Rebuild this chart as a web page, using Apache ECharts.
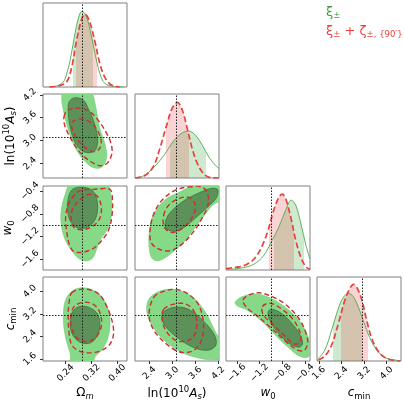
<!DOCTYPE html>
<html>
<head>
<meta charset="utf-8">
<script src="https://cdn.jsdelivr.net/npm/echarts@6/dist/echarts.min.js"></script>
<style>
  html, body { margin: 0; padding: 0; background: #fff; }
  #chart { width: 404px; height: 404px; }
</style>
</head>
<body>
<div id="chart"></div>
<script>
// parameters: Omega_m, ln(10^10 A_s), w0, c_min
const truths = [0.29, 3.1, -1.0, 3.15];
const ranges = [[0.17, 0.43], [2.02, 4.22], [-1.79, -0.31], [1.53, 4.51]];
const ticksOm = [0.24, 0.32, 0.40];
const ticksAs = [2.4, 3.0, 3.6, 4.2];
const ticksW0 = [-1.6, -1.2, -0.8, -0.4];
const ticksCmin = [1.6, 2.4, 3.2, 4.0];

// 1D marginals [x, density/peak]
const margOmXi = [[0.19,0],[0.212,0.013],[0.233,0.065],[0.243,0.17],[0.254,0.349],[0.269,0.698],[0.282,0.938],[0.291,0.991],[0.303,0.938],[0.316,0.742],[0.331,0.437],[0.346,0.175],[0.362,0.044],[0.388,0.009],[0.42,0]];
const margOmZeta = [[0.19,0],[0.217,0.013],[0.243,0.065],[0.259,0.262],[0.274,0.611],[0.290,0.895],[0.300,0.952],[0.313,0.873],[0.331,0.589],[0.346,0.306],[0.362,0.122],[0.383,0.022],[0.408,0]];
const margAsXi = [[2.02,0],[2.24,0.027],[2.51,0.137],[2.77,0.292],[3.04,0.490],[3.26,0.592],[3.43,0.614],[3.61,0.557],[3.79,0.424],[3.96,0.270],[4.14,0.159],[4.22,0.124]];
const margAsZeta = [[2.02,0],[2.29,0.035],[2.51,0.159],[2.68,0.402],[2.86,0.711],[2.99,0.910],[3.13,0.99],[3.26,0.888],[3.39,0.645],[3.52,0.380],[3.66,0.181],[3.83,0.049],[4.01,0.004],[4.22,0]];
const margW0Xi = [[-1.79,0.009],[-1.54,0.022],[-1.30,0.075],[-1.13,0.186],[-0.98,0.384],[-0.86,0.561],[-0.74,0.782],[-0.64,0.915],[-0.56,0.848],[-0.47,0.605],[-0.38,0.318],[-0.31,0.141]];
const margW0Zeta = [[-1.79,0.018],[-1.66,0.031],[-1.54,0.044],[-1.42,0.075],[-1.30,0.141],[-1.18,0.274],[-1.06,0.495],[-0.95,0.782],[-0.86,0.950],[-0.80,0.994],[-0.74,0.937],[-0.65,0.694],[-0.56,0.384],[-0.47,0.163],[-0.38,0.040],[-0.31,0.009]];
const margCminXi = [[1.55,0.02],[1.81,0.144],[2.05,0.406],[2.23,0.624],[2.41,0.799],[2.64,0.886],[2.82,0.842],[3.06,0.646],[3.29,0.406],[3.53,0.210],[3.77,0.092],[4.00,0.035],[4.36,0.009],[4.51,0]];
const margCminZeta = [[1.58,0.013],[1.81,0.065],[2.05,0.210],[2.29,0.493],[2.52,0.799],[2.70,0.952],[2.82,1.004],[2.96,0.952],[3.12,0.799],[3.29,0.537],[3.47,0.297],[3.71,0.122],[3.94,0.044],[4.18,0.013],[4.48,0]];

// 68% intervals shaded in the 1D panels
const bandOmXi = [0.262, 0.324], bandOmZeta = [0.272, 0.336];
const bandAsXi = [2.93, 3.88], bandAsZeta = [2.82, 3.43];
const bandW0Xi = [-0.95, -0.42], bandW0Zeta = [-1.035, -0.59];
const bandCminXi = [2.11, 3.12], bandCminZeta = [2.37, 3.35];

// 2D contours (68% and 95%), [x, y]
const ctrOmAsXi95 = [[0.233,4.28],[0.228,4.11],[0.233,3.80],[0.243,3.44],[0.256,3.09],[0.272,2.78],[0.295,2.50],[0.321,2.31],[0.346,2.28],[0.362,2.41],[0.367,2.65],[0.360,2.96],[0.346,3.31],[0.338,3.66],[0.331,3.97],[0.321,4.24],[0.285,4.41]];
const ctrOmAsXi68 = [[0.269,4.12],[0.251,4.02],[0.248,3.80],[0.251,3.49],[0.259,3.18],[0.272,2.91],[0.290,2.74],[0.310,2.68],[0.331,2.74],[0.339,2.96],[0.336,3.22],[0.326,3.53],[0.310,3.84],[0.295,4.06]];
const ctrOmAsZeta95 = [[0.235,3.62],[0.243,3.77],[0.264,3.84],[0.290,3.84],[0.316,3.75],[0.341,3.53],[0.365,3.22],[0.381,2.91],[0.383,2.65],[0.369,2.41],[0.349,2.34],[0.326,2.41],[0.295,2.60],[0.269,2.87],[0.248,3.18],[0.236,3.44]];
const ctrOmAsZeta68 = [[0.259,3.47],[0.274,3.55],[0.295,3.56],[0.318,3.47],[0.338,3.27],[0.350,3.00],[0.344,2.78],[0.326,2.71],[0.303,2.80],[0.279,3.00],[0.262,3.27]];

const ctrOmW0Xi95 = [[0.256,-0.27],[0.238,-0.47],[0.228,-0.68],[0.225,-0.89],[0.230,-1.10],[0.241,-1.29],[0.259,-1.45],[0.279,-1.58],[0.303,-1.63],[0.324,-1.58],[0.336,-1.42],[0.349,-1.24],[0.367,-1.10],[0.380,-0.89],[0.383,-0.62],[0.377,-0.38],[0.367,-0.27]];
const ctrOmW0Xi68 = [[0.285,-0.33],[0.259,-0.38],[0.247,-0.56],[0.246,-0.74],[0.254,-0.92],[0.274,-1.04],[0.300,-1.05],[0.326,-0.95],[0.338,-0.77],[0.336,-0.53],[0.321,-0.38]];
const ctrOmW0Zeta95 = [[0.259,-0.53],[0.285,-0.39],[0.326,-0.37],[0.377,-0.37],[0.385,-0.56],[0.383,-0.86],[0.372,-1.10],[0.352,-1.27],[0.331,-1.39],[0.310,-1.45],[0.290,-1.48],[0.264,-1.46],[0.251,-1.33],[0.243,-1.10],[0.240,-0.86],[0.246,-0.68]];
const ctrOmW0Zeta68 = [[0.285,-0.55],[0.310,-0.46],[0.336,-0.48],[0.349,-0.63],[0.349,-0.83],[0.336,-0.96],[0.313,-1.05],[0.288,-1.08],[0.266,-1.04],[0.257,-0.90],[0.262,-0.71]];

const ctrOmCminXi95 = [[0.279,4.11],[0.254,3.95],[0.238,3.63],[0.233,3.16],[0.235,2.69],[0.243,2.22],[0.254,1.80],[0.259,1.39],[0.321,1.39],[0.331,1.68],[0.352,1.92],[0.369,2.28],[0.377,2.75],[0.375,3.22],[0.362,3.63],[0.341,3.93],[0.310,4.10]];
const ctrOmCminXi68 = [[0.282,3.46],[0.262,3.28],[0.254,2.87],[0.262,2.45],[0.287,2.18],[0.318,2.18],[0.339,2.45],[0.346,2.87],[0.336,3.24],[0.310,3.44]];
const ctrOmCminZeta95 = [[0.259,3.95],[0.285,4.07],[0.318,4.05],[0.346,3.87],[0.365,3.52],[0.380,3.10],[0.388,2.69],[0.386,2.34],[0.372,2.06],[0.341,1.86],[0.307,1.82],[0.279,1.90],[0.259,2.10],[0.251,2.51],[0.248,3.10],[0.251,3.63]];
const ctrOmCminZeta68 = [[0.290,3.60],[0.266,3.46],[0.256,3.10],[0.259,2.69],[0.276,2.34],[0.303,2.22],[0.331,2.34],[0.349,2.69],[0.350,3.10],[0.336,3.44],[0.313,3.60]];

const ctrAsW0Xi95 = [[2.46,-1.58],[2.39,-1.39],[2.39,-1.15],[2.46,-0.89],[2.64,-0.67],[2.90,-0.51],[3.21,-0.41],[3.48,-0.32],[3.74,-0.26],[4.30,-0.26],[4.30,-0.53],[4.05,-0.65],[3.81,-0.85],[3.55,-1.08],[3.30,-1.30],[3.05,-1.45],[2.82,-1.57],[2.61,-1.63]];
const ctrAsW0Xi68 = [[2.82,-1.04],[2.86,-0.86],[3.04,-0.71],[3.35,-0.55],[3.70,-0.43],[4.05,-0.35],[4.19,-0.38],[4.14,-0.53],[3.92,-0.68],[3.61,-0.87],[3.30,-1.04],[3.04,-1.11]];
const ctrAsW0Zeta95 = [[3.52,-0.32],[3.13,-0.37],[2.77,-0.53],[2.53,-0.77],[2.42,-1.06],[2.44,-1.30],[2.64,-1.42],[2.95,-1.45],[3.26,-1.33],[3.57,-1.10],[3.79,-0.86],[3.94,-0.62],[3.90,-0.41],[3.74,-0.32]];
const ctrAsW0Zeta68 = [[2.77,-0.83],[2.90,-0.65],[3.17,-0.53],[3.43,-0.51],[3.58,-0.61],[3.58,-0.77],[3.43,-0.95],[3.21,-1.08],[2.99,-1.13],[2.79,-1.04]];

const ctrAsCminXi95 = [[2.37,3.69],[2.55,3.93],[2.86,4.07],[3.21,4.02],[3.57,3.75],[3.88,3.22],[4.10,2.63],[4.30,2.10],[4.30,1.63],[4.01,1.57],[3.61,1.66],[3.21,1.86],[2.77,2.28],[2.46,2.81],[2.33,3.28]];
const ctrAsCminXi68 = [[2.77,3.28],[3.08,3.44],[3.43,3.36],[3.79,2.98],[4.10,2.45],[4.14,2.10],[3.96,1.92],[3.61,1.98],[3.21,2.28],[2.86,2.69],[2.73,3.01]];
const ctrAsCminZeta95 = [[2.51,3.79],[2.77,4.00],[3.08,4.07],[3.39,3.93],[3.66,3.58],[3.79,3.10],[3.81,2.57],[3.70,2.10],[3.48,1.86],[3.17,1.86],[2.82,2.16],[2.51,2.63],[2.39,3.16]];
const ctrAsCminZeta68 = [[2.77,3.36],[3.04,3.55],[3.35,3.55],[3.57,3.28],[3.64,2.81],[3.55,2.39],[3.30,2.22],[3.04,2.30],[2.82,2.63],[2.73,3.01]];

const ctrW0CminXi95 = [[-1.61,3.67],[-1.51,3.81],[-1.30,3.91],[-1.06,3.81],[-0.80,3.52],[-0.56,3.10],[-0.38,2.57],[-0.31,2.04],[-0.34,1.68],[-0.50,1.71],[-0.71,2.04],[-0.95,2.51],[-1.18,2.98],[-1.42,3.34],[-1.57,3.46],[-1.63,3.58]];
const ctrW0CminXi68 = [[-1.01,3.36],[-0.86,3.28],[-0.68,2.98],[-0.50,2.51],[-0.44,2.16],[-0.50,2.02],[-0.68,2.16],[-0.89,2.57],[-1.02,2.98],[-1.05,3.22]];
const ctrW0CminZeta95 = [[-1.49,3.69],[-1.39,3.87],[-1.21,3.95],[-1.01,3.84],[-0.77,3.58],[-0.54,3.13],[-0.40,2.63],[-0.35,2.16],[-0.42,1.90],[-0.56,1.95],[-0.77,2.28],[-1.01,2.73],[-1.24,3.13],[-1.43,3.44]];
const ctrW0CminZeta68 = [[-1.15,3.46],[-1.01,3.58],[-0.80,3.36],[-0.60,2.98],[-0.48,2.51],[-0.48,2.22],[-0.58,2.13],[-0.74,2.39],[-0.95,2.81],[-1.13,3.16]];

const seriesNames = ['ξ±', 'ξ± + ζ±,{90′}'];

// ---- layout / styling ----
const FONT = 'DejaVu Sans';
const colLeft = [43, 135, 226, 317];
const rowTop = [3, 94, 186, 277];
const PANEL = 84;
const GREEN_LINE = '#4fa84f', RED_LINE = '#e8413e', RED_2D = '#c9302f';
const GREEN_OUT = '#86d986', GREEN_IN = '#5c925a';

const ticks = [ticksOm, ticksAs, ticksW0, ticksCmin];
const digits = [2, 1, 1, 1];
const margs = [
  [margOmXi, margOmZeta, bandOmXi, bandOmZeta],
  [margAsXi, margAsZeta, bandAsXi, bandAsZeta],
  [margW0Xi, margW0Zeta, bandW0Xi, bandW0Zeta],
  [margCminXi, margCminZeta, bandCminXi, bandCminZeta]
];
const contours = {
  '0-1': [ctrOmAsXi95, ctrOmAsXi68, ctrOmAsZeta95, ctrOmAsZeta68],
  '0-2': [ctrOmW0Xi95, ctrOmW0Xi68, ctrOmW0Zeta95, ctrOmW0Zeta68],
  '0-3': [ctrOmCminXi95, ctrOmCminXi68, ctrOmCminZeta95, ctrOmCminZeta68],
  '1-2': [ctrAsW0Xi95, ctrAsW0Xi68, ctrAsW0Zeta95, ctrAsW0Zeta68],
  '1-3': [ctrAsCminXi95, ctrAsCminXi68, ctrAsCminZeta95, ctrAsCminZeta68],
  '2-3': [ctrW0CminXi95, ctrW0CminXi68, ctrW0CminZeta95, ctrW0CminZeta68]
};

const rich = {
  n: { fontSize: 12, fontFamily: FONT, color: '#000' },
  it: { fontSize: 12, fontFamily: FONT, fontStyle: 'italic', color: '#000' },
  sb: { fontSize: 8.5, fontFamily: FONT, color: '#000', padding: [7, 0, 0, 0] },
  sbi: { fontSize: 8.5, fontFamily: FONT, fontStyle: 'italic', color: '#000', padding: [7, 0, 0, 0] },
  sp: { fontSize: 8.5, fontFamily: FONT, color: '#000', padding: [0, 0, 8, 0] }
};
const labels = [
  '{n|Ω}{sbi|m}',
  '{n|ln(10}{sp|10}{it|A}{sbi|s}{n|)}',
  '{it|w}{sb|0}',
  '{it|c}{sb|min}'
];

function tickFmt(p) {
  return v => v.toFixed(digits[p]).replace('-', '\u2212');
}

function valueAxis(p, gi, showLabels, isY) {
  const ax = {
    type: 'value', gridIndex: gi, min: ranges[p][0], max: ranges[p][1],
    axisLine: { show: false }, splitLine: { show: false },
    axisTick: { show: showLabels, customValues: ticks[p], length: 3, lineStyle: { color: '#333' } },
    axisLabel: {
      show: showLabels, customValues: ticks[p], rotate: 45, align: 'center', verticalAlign: 'middle',
      margin: isY ? 13 : 12, fontSize: 9, fontFamily: FONT, color: '#000', formatter: tickFmt(p)
    }
  };
  if (showLabels) {
    ax.name = labels[p];
    ax.nameLocation = 'middle';
    ax.nameGap = isY ? 22 : 24;
    if (isY) ax.nameRotate = 90;
    ax.nameTextStyle = { fontSize: 12, fontFamily: FONT, color: '#000', rich };
  }
  return ax;
}

function polySeries(pts, gi, name, style) {
  return {
    type: 'custom', name, xAxisIndex: gi, yAxisIndex: gi, clip: true, silent: true,
    data: pts,
    renderItem: (params, api) => {
      if (params.dataIndex !== 0) return;
      return {
        type: 'polygon',
        shape: { points: pts.map(p => api.coord(p)), smooth: 0.35 },
        style
      };
    }
  };
}

function truthSeries(gi, lines) {
  return {
    type: 'line', xAxisIndex: gi, yAxisIndex: gi, data: [], silent: true,
    markLine: {
      silent: true, symbol: 'none', label: { show: false },
      lineStyle: { color: '#222', width: 1, type: [1.5, 1.5] },
      data: lines
    }
  };
}

const grids = [], xAxes = [], yAxes = [], series = [], visualMaps = [];
let gi = 0;
for (let i = 0; i < 4; i++) {
  for (let j = 0; j <= i; j++) {
    grids.push({
      left: colLeft[j], top: rowTop[i], width: PANEL, height: PANEL,
      show: true, borderColor: '#808080', borderWidth: 1, backgroundColor: 'transparent'
    });
    xAxes.push(valueAxis(j, gi, i === 3, false));
    if (i === j) {
      yAxes.push({ type: 'value', gridIndex: gi, min: 0, max: 1.1, show: false });
      const [xi, zeta, bXi, bZeta] = margs[i];
      series.push({
        type: 'line', name: seriesNames[0], xAxisIndex: gi, yAxisIndex: gi, data: xi,
        smooth: 0.35, symbol: 'none', silent: true,
        lineStyle: { color: GREEN_LINE, width: 0.9 },
        areaStyle: { opacity: 1 }
      });
      visualMaps.push({
        type: 'piecewise', show: false, dimension: 0, seriesIndex: series.length - 1,
        pieces: [{ gte: bXi[0], lte: bXi[1], color: 'rgba(60,170,60,0.25)' }],
        outOfRange: { color: 'rgba(0,0,0,0)' }
      });
      series.push({
        type: 'line', name: seriesNames[1], xAxisIndex: gi, yAxisIndex: gi, data: zeta,
        smooth: 0.35, symbol: 'none', silent: true,
        lineStyle: { color: RED_LINE, width: 1.7, type: [6, 3] },
        areaStyle: { opacity: 1 }
      });
      visualMaps.push({
        type: 'piecewise', show: false, dimension: 0, seriesIndex: series.length - 1,
        pieces: [{ gte: bZeta[0], lte: bZeta[1], color: 'rgba(232,60,60,0.22)' }],
        outOfRange: { color: 'rgba(0,0,0,0)' }
      });
      series.push(truthSeries(gi, [{ xAxis: truths[i] }]));
    } else {
      yAxes.push(valueAxis(i, gi, j === 0, true));
      const [g95, g68, r95, r68] = contours[j + '-' + i];
      series.push(polySeries(g95, gi, seriesNames[0], { fill: GREEN_OUT, stroke: '#72c872', lineWidth: 0.6 }));
      series.push(polySeries(g68, gi, seriesNames[0], { fill: GREEN_IN, stroke: '#3f6e3f', lineWidth: 0.8 }));
      series.push(truthSeries(gi, [{ xAxis: truths[j] }, { yAxis: truths[i] }]));
      series.push(polySeries(r95, gi, seriesNames[1], { fill: null, stroke: RED_2D, lineWidth: 1.4, lineDash: [5, 3] }));
      series.push(polySeries(r68, gi, seriesNames[1], { fill: null, stroke: RED_2D, lineWidth: 1.4, lineDash: [5, 3] }));
    }
    gi++;
  }
}

const chart = echarts.init(document.getElementById('chart'), null, { renderer: 'canvas' });
chart.setOption({
  animation: false,
  backgroundColor: '#fff',
  grid: grids,
  xAxis: xAxes,
  yAxis: yAxes,
  visualMap: visualMaps,
  series,
  graphic: [
    {
      type: 'text', x: 326, y: 6, silent: true,
      style: {
        text: '{g|ξ}±', fill: '#3e9f3e', fontSize: 8.5, fontFamily: FONT,
        rich: { g: { fontSize: 13, fontFamily: FONT, fill: '#3e9f3e', padding: [0, 0, 6, 0] } }
      }
    },
    {
      type: 'text', x: 326, y: 25, silent: true,
      style: {
        text: '{g|ξ}±{g| + ζ}±, {90′}', fill: '#e8413e', fontSize: 8.5, fontFamily: FONT,
        rich: { g: { fontSize: 13, fontFamily: FONT, fill: '#e8413e', padding: [0, 0, 6, 0] } }
      }
    }
  ]
});
</script>
</body>
</html>
